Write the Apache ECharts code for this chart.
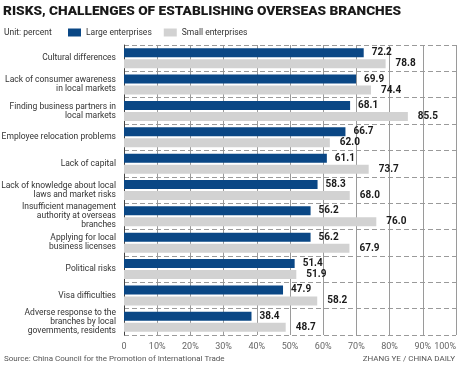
<!DOCTYPE html>
<html><head><meta charset="utf-8">
<script src="https://cdn.jsdelivr.net/npm/echarts@6/dist/echarts.min.js"></script>
<style>html,body{margin:0;padding:0;background:#fff}#c{width:460px;height:371px}</style>
</head><body><div id="c"></div>
<script>
const categories = [
  "Cultural differences",
  "Lack of consumer awareness\nin local markets",
  "Finding business partners in\nlocal markets",
  "Employee relocation problems",
  "Lack of capital",
  "Lack of knowledge about local\nlaws and market risks",
  "Insufficient management\nauthority at overseas\nbranches",
  "Applying for local\nbusiness licenses",
  "Political risks",
  "Visa difficulties",
  "Adverse response to the\nbranches by local\ngovernments, residents"
];
const largeEnterprises = [72.2, 69.9, 68.1, 66.7, 61.1, 58.3, 56.2, 56.2, 51.4, 47.9, 38.4];
const smallEnterprises = [78.8, 74.4, 85.5, 62.0, 73.7, 68.0, 76.0, 67.9, 51.9, 58.2, 48.7];
const tickLabels = {0:"0",10:"10%",20:"20%",30:"30%",40:"40%",50:"50%",60:"60%",70:"70%",80:"80%",90:"90%",100:"100%"};

const chart = echarts.init(document.getElementById('c'), null, {renderer:'canvas'});
const font = 'Roboto, "Liberation Sans", sans-serif';
const valLabel = {
  show: true, position: 'right', distance: 8,
  formatter: p => p.value.toFixed(1),
  fontFamily: font, fontWeight: 'bold', fontSize: 10, color: '#1a1a1a'
};
chart.setOption({
  animation: false,
  textStyle: {fontFamily: font},
  title: {
    text: 'RISKS, CHALLENGES OF ESTABLISHING OVERSEAS BRANCHES',
    left: 3, top: 5, padding: 0,
    textStyle: {fontFamily: font, fontWeight: 900, fontSize: 13.7, color: '#1a1a1a'}
  },
  graphic: [
    {type:'text', left: 4, top: 28, style:{text:'Unit: percent', font:'8.5px '+font, fill:'#333'}},
    {type:'text', right: 5, top: 355, style:{text:'ZHANG YE / CHINA DAILY', font:'8px '+font, fill:'#555'}},
    {type:'text', left: 4, top: 355, style:{text:'Source: China Council for the Promotion of International Trade', font:'8px '+font, fill:'#555'}}
  ],
  legend: {
    left: 63, top: 23, itemWidth: 13, itemHeight: 8, itemGap: 12, icon: 'rect',
    textStyle: {fontFamily: font, fontSize: 8.5, color: '#333'},
    data: ['Large enterprises', 'Small enterprises']
  },
  grid: {left: 124, right: 4, top: 45, bottom: 36, containLabel: false, outerBoundsMode: 'none'},
  xAxis: {
    type: 'value', min: 0, max: 100, interval: 10,
    axisLine: {show:false}, axisTick: {show:false},
    axisLabel: {formatter: v => tickLabels[v], color: '#666', fontSize: 9, margin: 7, fontFamily: font, alignMaxLabel: 'right'},
    splitLine: {show:true, lineStyle:{color:'#9a9a9a', width:1}}
  },
  yAxis: {
    type: 'category', data: categories, inverse: true,
    axisLine: {show:true, lineStyle:{color:'#444', width:1}},
    axisTick: {show:false},
    axisLabel: {color:'#333', fontSize: 8.5, lineHeight: 9, margin: 8, fontFamily: font, align:'right'},
    splitLine: {show:true, interval:0, lineStyle:{color:'#9a9a9a', type:[5,3], width:1}}
  },
  series: [
    {name:'Large enterprises', type:'bar', data: largeEnterprises, barWidth: 9, barGap: '22%',
     itemStyle:{color:'#0a4785'}, label: valLabel},
    {name:'Small enterprises', type:'bar', data: smallEnterprises, barWidth: 9,
     itemStyle:{color:'#d2d2d2'}, label: Object.assign({}, valLabel, {distance: 10})}
  ]
});
</script></body></html>
